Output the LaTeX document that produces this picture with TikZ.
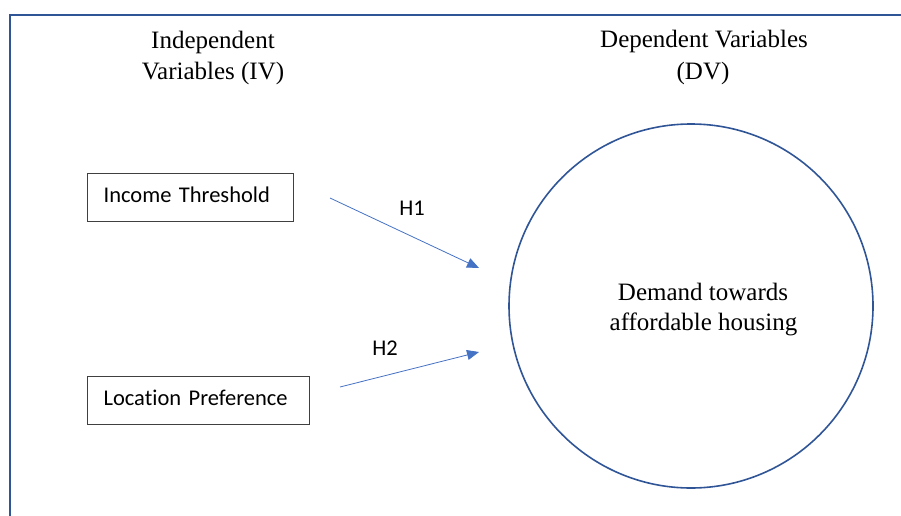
\documentclass[tikz,border=0pt]{standalone}
\usepackage{fontspec}
\setmainfont{Liberation Serif}
\newfontfamily\boxfont[Ligatures=NoCommon]{Carlito}
\usetikzlibrary{arrows.meta}
\definecolor{framecol}{HTML}{2F5597}
\definecolor{arrowcol}{HTML}{4472C4}
\definecolor{boxcol}{HTML}{404040}
\tikzset{
  title/.style={anchor=base, inner sep=0pt, font=\fontsize{25}{31}\selectfont},
  varbox/.style={draw=boxcol, line width=1.2pt, anchor=north west, minimum height=48pt,
    inner xsep=16pt, inner ysep=0pt, text height=16pt, text depth=7pt, align=left,
    font=\boxfont\fontsize{22.5}{27}\selectfont},
  hyp/.style={anchor=base, inner sep=0pt, font=\boxfont\fontsize{22.5}{27}\selectfont},
  link/.style={draw=arrowcol, line width=0.8pt, -{Triangle[length=12pt,width=10pt]}},
}
\begin{document}
\begin{tikzpicture}[x=1pt,y=-1pt]
\useasboundingbox (0,0) rectangle (901,516);
\draw[framecol, line width=2pt] (901,15) -- (10,15) -- (10,516);
\node[title] (iv1) at (213,49) {Independent};
\node[title] (iv2) at (213,80) {Variables (IV)};
\node[title] (dv1) at (704,48) {Dependent Variables};
\node[title] (dv2) at (703,80) {(DV)};
\node[varbox, text width=174pt] (inc) at (87,173) {Income Threshold};
\node[varbox, text width=190pt] (loc) at (87,376) {Location Preference};
\node[draw=framecol, line width=1.6pt, circle, minimum size=364pt, inner sep=0pt] (dem) at (691,306) {};
\node[title] (dem1) at (703,300) {Demand towards};
\node[title] (dem2) at (703.5,330) {affordable housing};
\coordinate (h1s) at (330,198);
\coordinate (h1e) at (479,268);
\coordinate (h2s) at (340,387);
\coordinate (h2e) at (479,352);
\draw[link] (h1s) -- (h1e);
\draw[link] (h2s) -- (h2e);
\node[hyp] (h1) at (412,215) {H1};
\node[hyp] (h2) at (385,355) {H2};
\end{tikzpicture}
\end{document}
